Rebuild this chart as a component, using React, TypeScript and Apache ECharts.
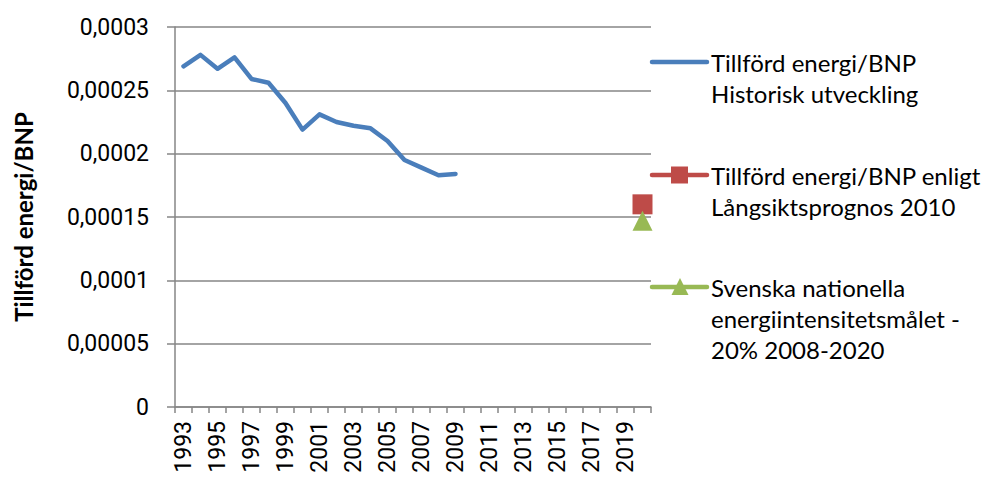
import React, { useEffect, useRef } from "react";
import * as echarts from "echarts";

const years: string[] = [];
for (let y = 1993; y <= 2020; y++) years.push(String(y));

const historic: (number | null)[] = [
  0.000269, 0.000278, 0.000267, 0.000276, 0.000259, 0.000256, 0.00024, 0.000219,
  0.000231, 0.000225, 0.000222, 0.00022, 0.00021, 0.000195, 0.000189, 0.000183, 0.000184,
];
const forecast2020 = 0.00016;
const target2020 = 0.000147;

const seriesNames = [
  "Tillförd energi/BNP\nHistorisk utveckling",
  "Tillförd energi/BNP enligt\nLångsiktsprognos 2010",
  "Svenska nationella\nenergiintensitetsmålet -\n20% 2008-2020",
];
const colors = ["#4A7EBB", "#BE4B48", "#98B954"];
const yTitle = "Tillförd energi/BNP";

export default function App() {
  const ref = useRef<HTMLDivElement>(null);
  useEffect(() => {
    if (!ref.current) return;
    const chart = echarts.init(ref.current, null, { renderer: "svg" });

    const histData = years.map((_, i) => (i < historic.length ? historic[i] : null));
    const fData = years.map((y) => (y === "2020" ? forecast2020 : null));
    const tData = years.map((y) => (y === "2020" ? target2020 : null));

    const legendFont = "Lato, 'Open Sans', sans-serif";
    const lx1 = 652, lx2 = 707, tx = 711, lh = 31;
    const itemYs = [62, 175, 287];
    const graphic: any[] = [];
    seriesNames.forEach((name, idx) => {
      const y0 = itemYs[idx];
      graphic.push({
        type: "line",
        shape: { x1: lx1, y1: y0, x2: lx2, y2: y0 },
        style: { stroke: colors[idx], lineWidth: 4.5, lineCap: "round" },
      });
      if (idx === 1) {
        graphic.push({
          type: "rect",
          shape: { x: 671, y: y0 - 8.5, width: 17, height: 17 },
          style: { fill: colors[idx] },
        });
      }
      if (idx === 2) {
        graphic.push({
          type: "polygon",
          shape: { points: [[680, y0 - 9], [671.5, y0 + 8], [688.5, y0 + 8]] },
          style: { fill: colors[idx] },
        });
      }
      name.split("\n").forEach((line, li) => {
        graphic.push({
          type: "text",
          x: tx,
          y: y0 + li * lh,
          style: {
            text: line,
            fill: "#000",
            font: `24px ${legendFont}`,
            verticalAlign: "middle",
            align: "left",
          },
        });
      });
    });

    chart.setOption({
      animation: false,
      backgroundColor: "#fff",
      grid: { left: 175, right: 335, top: 27, bottom: 70, containLabel: false },
      xAxis: {
        type: "category",
        data: years,
        boundaryGap: true,
        axisLine: { lineStyle: { color: "#868686", width: 1.5 } },
        axisTick: { show: true, interval: 0, length: 6, lineStyle: { color: "#868686", width: 1.5 } },
        axisLabel: {
          interval: 1,
          rotate: 90,
          margin: 14,
          color: "#000",
          fontSize: 23,
          fontFamily: "Roboto, Arial, sans-serif",
        },
        splitLine: { show: false },
      },
      yAxis: {
        type: "value",
        min: 0,
        max: 0.0003,
        interval: 0.00005,
        name: yTitle,
        nameLocation: "middle",
        nameGap: 140,
        nameRotate: 90,
        nameTextStyle: {
          fontSize: 24,
          fontWeight: "bold",
          color: "#000",
          fontFamily: "Lato, Roboto, Arial, sans-serif",
        },
        axisLine: { show: true, lineStyle: { color: "#868686", width: 1.5 } },
        axisTick: { show: true, length: 8, lineStyle: { color: "#868686", width: 1.5 } },
        axisLabel: {
          margin: 26,
          color: "#000",
          fontSize: 23,
          fontFamily: "Roboto, Arial, sans-serif",
          formatter: (v: number) =>
            v === 0 ? "0" : String(parseFloat(v.toFixed(6))).replace(".", ","),
        },
        splitLine: { show: true, lineStyle: { color: "#868686", width: 1.5 } },
      },
      graphic,
      series: [
        {
          name: seriesNames[0],
          type: "line",
          data: histData,
          symbol: "none",
          lineStyle: { color: colors[0], width: 4.5, cap: "round", join: "round" },
          itemStyle: { color: colors[0] },
          connectNulls: false,
        },
        {
          name: seriesNames[1],
          type: "line",
          data: fData,
          symbol: "rect",
          symbolSize: 20,
          showAllSymbol: true,
          lineStyle: { color: colors[1], width: 4.5 },
          itemStyle: { color: colors[1] },
        },
        {
          name: seriesNames[2],
          type: "line",
          data: tData,
          symbol: "triangle",
          symbolSize: [20, 20],
          showAllSymbol: true,
          lineStyle: { color: colors[2], width: 4.5 },
          itemStyle: { color: colors[2] },
        },
      ],
    });
    return () => chart.dispose();
  }, []);
  return (
    <div
      ref={ref}
      style={{ position: "fixed", left: 0, top: 0, width: 986, height: 477, background: "#fff" }}
    />
  );
}
